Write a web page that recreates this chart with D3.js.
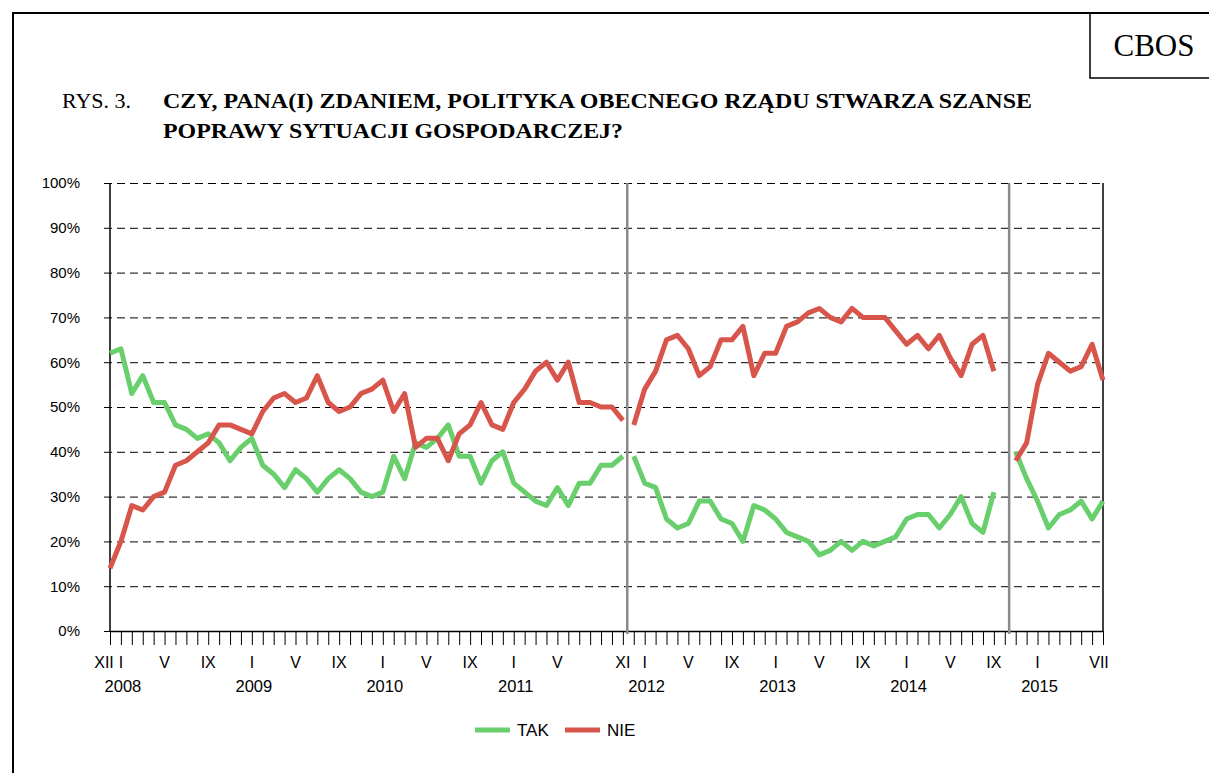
<!DOCTYPE html>
<html>
<head>
<meta charset="utf-8">
<script src="https://cdn.jsdelivr.net/npm/d3@7"></script>
<style>
  body { margin: 0; background: #fff; }
  svg { display: block; }
</style>
</head>
<body>
<svg class="chart" width="1209" height="773"></svg>
<script>
// data: monthly, from XII 2007 (index 0) to VII 2015 (index 91), null = no survey
var tak = [62,63,53,57,51,51,46,45,43,44, 42,38,41,43,37,35,32,36,34,31,
           34,36,34,31,30,31,39,34,42,41, 43,46,39,39,33,38,40,33,31,29,
           28,32,28,33,33,37,37,39,
           39,33,32,25,23,24,29,29,25,24, 20,28,27,25,22,21,20,17,18,20,
           18,20,19,20,21,25,26,26,23,26, 30,24,22,31,
           null,40,34,29,23,26,27,29,25,29];
var nie = [14,20,28,27,30,31,37,38,40,42, 46,46,45,44,49,52,53,51,52,57,
           51,49,50,53,54,56,49,53,41,43, 43,38,44,46,51,46,45,51,54,58,
           60,56,60,51,51,50,50,47,
           46,54,58,65,66,63,57,59,65,65, 68,57,62,62,68,69,71,72,70,69,
           72,70,70,70,67,64,66,63,66,61, 57,64,66,58,
           null,38,42,55,62,60,58,59,64,56];

// which government period each month belongs to (lines break between periods)
var okres = [];
for (var i = 0; i < 92; i++) okres.push(i <= 47 ? 0 : (i <= 82 ? 1 : 2));

// month labels and year labels (index -> text)
var monthLabels = [[0,"XII"],[1,"I"],[5,"V"],[9,"IX"],[13,"I"],[17,"V"],[21,"IX"],
                   [25,"I"],[29,"V"],[33,"IX"],[37,"I"],[41,"V"],[47,"XI"],[49,"I"],
                   [53,"V"],[57,"IX"],[61,"I"],[65,"V"],[69,"IX"],[73,"I"],[77,"V"],
                   [81,"IX"],[85,"I"],[91,"VII"]];
var yearLabels = [[1,"2008"],[13,"2009"],[25,"2010"],[37,"2011"],[49,"2012"],
                  [61,"2013"],[73,"2014"],[85,"2015"]];
var breaks = [47.4, 82.4]; // change of government

var series = [
  {name: "TAK", values: tak, color: "#68CF6C"},
  {name: "NIE", values: nie, color: "#D8554C"}
];

var svg = d3.select("svg.chart");
var plotLeft = 110, plotRight = 1103, plotTop = 183, plotBottom = 631;

var x = d3.scaleLinear().domain([0, 91]).range([plotLeft, plotRight]);
var y = d3.scaleLinear().domain([0, 100]).range([plotBottom, plotTop]);

// frame
svg.append("path")
    .attr("d", "M13,773 L13,13 L1209,13")
    .attr("fill", "none").attr("stroke", "#000").attr("stroke-width", 2);
svg.append("path")
    .attr("d", "M1090,13 L1090,78 L1209,78")
    .attr("fill", "none").attr("stroke", "#000").attr("stroke-width", 1.5);
svg.append("text")
    .attr("x", 1154).attr("y", 56)
    .attr("text-anchor", "middle")
    .style("font", "31px 'Liberation Serif', 'Times New Roman', serif")
    .text("CBOS");

// title
var serif = "'Liberation Serif', 'Times New Roman', serif";
svg.append("text").attr("x", 62).attr("y", 108)
    .style("font", "22px " + serif).text("RYS. 3.");
svg.append("text").attr("x", 163).attr("y", 108)
    .style("font", "bold 22px " + serif)
    .attr("textLength", 869).attr("lengthAdjust", "spacingAndGlyphs")
    .text("CZY, PANA(I) ZDANIEM, POLITYKA OBECNEGO RZĄDU STWARZA SZANSE");
svg.append("text").attr("x", 163).attr("y", 138)
    .style("font", "bold 22px " + serif)
    .attr("textLength", 460).attr("lengthAdjust", "spacingAndGlyphs")
    .text("POPRAWY SYTUACJI GOSPODARCZEJ?");

var sans = "'Liberation Sans', Arial, sans-serif";

// y axis with dashed gridlines
var yAxis = svg.append("g")
    .attr("transform", "translate(" + plotLeft + ",0)")
    .call(d3.axisLeft(y).tickValues(d3.range(0, 101, 10))
        .tickSize(-(plotRight - plotLeft)).tickSizeOuter(0)
        .tickFormat(function(d) { return d + "%"; }));
yAxis.select(".domain").remove();
yAxis.selectAll(".tick line")
    .attr("x1", -6)
    .attr("stroke", "#000")
    .attr("stroke-dasharray", "8,5");
yAxis.selectAll(".tick text")
    .attr("x", -30)
    .attr("fill", "#000")
    .style("font", "15px " + sans);

// x axis: tick on every month
var xAxis = svg.append("g")
    .attr("transform", "translate(0," + plotBottom + ")")
    .call(d3.axisBottom(x).tickValues(d3.range(0, 92))
        .tickSize(14).tickSizeOuter(0).tickFormat(""));
xAxis.select(".domain").attr("stroke", "#000").attr("stroke-width", 1.5);
xAxis.selectAll(".tick line").attr("stroke", "#000");

svg.append("g").selectAll("text.month")
    .data(monthLabels).enter()
    .append("text")
    .attr("class", "month")
    .attr("x", function(d) { return x(d[0]); })
    .attr("dx", function(d) { return d[0] == 0 ? -6 : (d[0] == 91 ? -4 : 0); })
    .attr("y", 668)
    .attr("text-anchor", "middle")
    .style("font", "16px " + sans)
    .text(function(d) { return d[1]; });

svg.append("g").selectAll("text.year")
    .data(yearLabels).enter()
    .append("text")
    .attr("class", "year")
    .attr("x", function(d) { return x(d[0]); })
    .attr("dx", 2)
    .attr("y", 692)
    .attr("text-anchor", "middle")
    .style("font", "16.5px " + sans)
    .text(function(d) { return d[1]; });

// left and right plot borders
svg.append("line")
    .attr("x1", plotLeft).attr("x2", plotLeft).attr("y1", plotTop).attr("y2", plotBottom)
    .attr("stroke", "#000").attr("stroke-width", 1.5);
svg.append("line")
    .attr("x1", plotRight).attr("x2", plotRight).attr("y1", plotTop).attr("y2", plotBottom)
    .attr("stroke", "#000").attr("stroke-width", 1.5);

// government change lines
svg.append("g").selectAll("line")
    .data(breaks).enter()
    .append("line")
    .attr("x1", function(d) { return x(d); })
    .attr("x2", function(d) { return x(d); })
    .attr("y1", plotTop).attr("y2", plotBottom + 3)
    .attr("stroke", "#8a8a8a").attr("stroke-width", 2.5);

// lines, one path per period so they break at government changes
series.forEach(function(s) {
    d3.range(3).forEach(function(p) {
        var line = d3.line()
            .defined(function(d, i) { return d != null && okres[i] == p; })
            .x(function(d, i) { return x(i); })
            .y(function(d) { return y(d); });
        svg.append("path")
            .datum(s.values)
            .attr("d", line)
            .attr("fill", "none")
            .attr("stroke", s.color)
            .attr("stroke-width", 5)
            .attr("stroke-linejoin", "round");
    });
});

// legend
var legend = svg.append("g").selectAll("g")
    .data(series).enter()
    .append("g")
    .attr("transform", function(d, i) { return "translate(" + (475 + i * 90) + ",730)"; });
legend.append("line")
    .attr("x1", 0).attr("x2", 35)
    .attr("stroke", function(d) { return d.color; })
    .attr("stroke-width", 5);
legend.append("text")
    .attr("x", 42).attr("y", 6)
    .style("font", "17px " + sans)
    .text(function(d) { return d.name; });
</script>
</body>
</html>
